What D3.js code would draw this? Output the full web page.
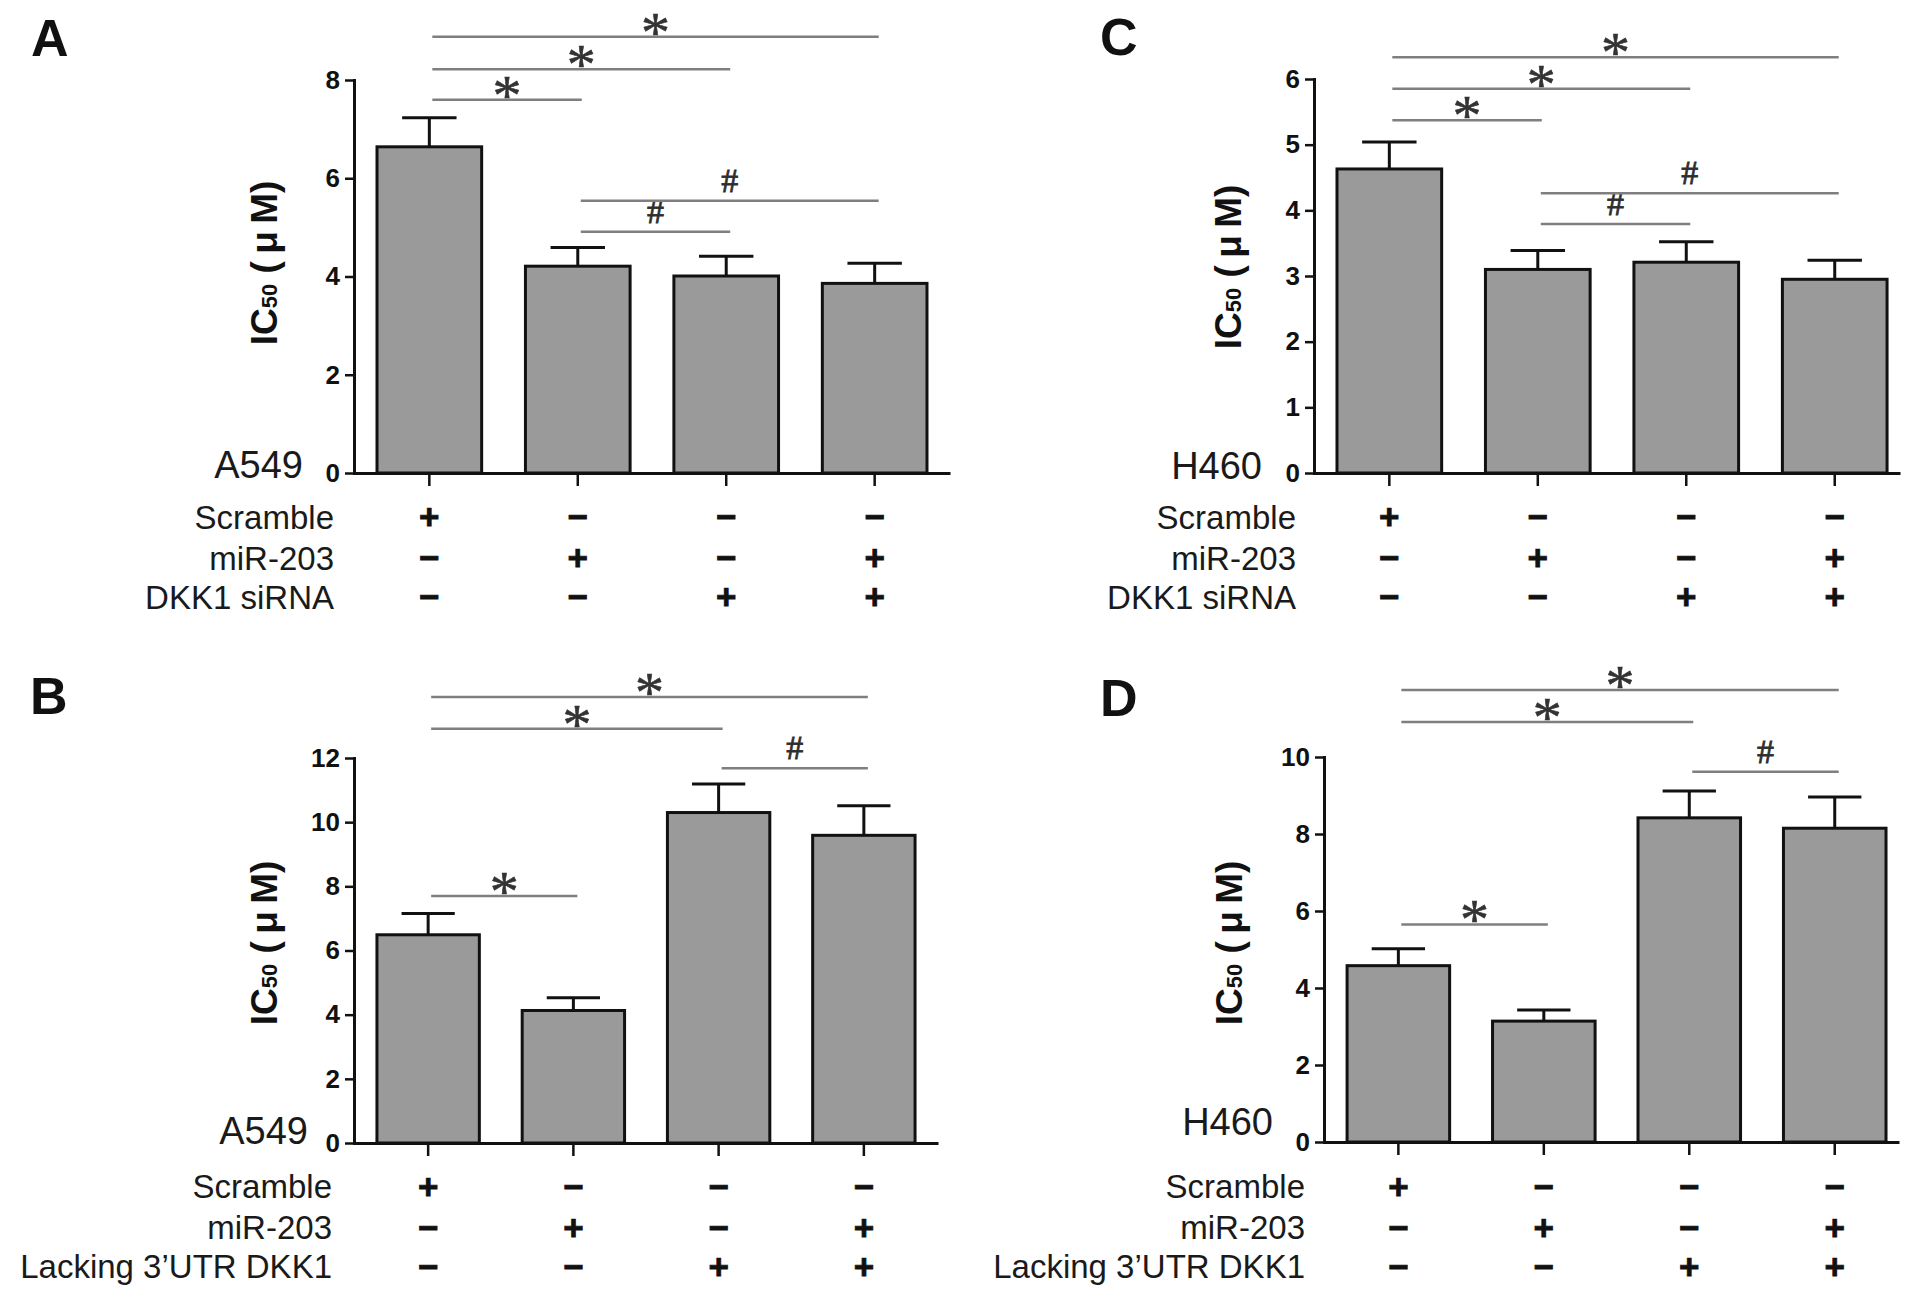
<!DOCTYPE html>
<html>
<head>
<meta charset="utf-8">
<script src="https://cdn.jsdelivr.net/npm/d3@7"></script>
<style>
  html, body { margin: 0; padding: 0; background: #fff; }
  svg { display: block; }
</style>
</head>
<body>
<svg id="chart" width="1913" height="1298"></svg>
<script>
// ---------------- DATA ----------------
const groups = ["G1", "G2", "G3", "G4"];

const rowLabelsAC = ["Scramble", "miR-203", "DKK1 siRNA"];
const rowLabelsBD = ["Scramble", "miR-203", "Lacking 3\u2019UTR DKK1"];
const signRows = [
  ["+", "\u2212", "\u2212", "\u2212"],
  ["\u2212", "+", "\u2212", "+"],
  ["\u2212", "\u2212", "+", "+"]
];

const meanA = [6.64, 4.21, 4.01, 3.86];
const errA  = [0.59, 0.38, 0.40, 0.41];
const meanB = [6.49, 4.13, 10.30, 9.59];
const errB  = [0.66, 0.40, 0.89, 0.92];
const meanC = [4.63, 3.10, 3.21, 2.95];
const errC  = [0.41, 0.29, 0.31, 0.29];
const meanD = [4.58, 3.14, 8.42, 8.15];
const errD  = [0.44, 0.29, 0.70, 0.81];

const ticksA = [0, 2, 4, 6, 8];
const ticksB = [0, 2, 4, 6, 8, 10, 12];
const ticksC = [0, 1, 2, 3, 4, 5, 6];
const ticksD = [0, 2, 4, 6, 8, 10];

// significance brackets: [from, to, level (y units), symbol]
const sigA = [[0, 1, 7.60, "*"], [0, 2, 8.22, "*"], [0, 3, 8.88, "*"], [1, 2, 4.91, "#"], [1, 3, 5.54, "#"]];
const sigB = [[0, 1, 7.70, "*"], [0, 2, 12.91, "*"], [0, 3, 13.90, "*"], [2, 3, 11.68, "#"]];
const sigC = [[0, 1, 5.37, "*"], [0, 2, 5.85, "*"], [0, 3, 6.33, "*"], [1, 2, 3.79, "#"], [1, 3, 4.26, "#"]];
const sigD = [[0, 1, 5.65, "*"], [0, 2, 10.91, "*"], [0, 3, 11.74, "*"], [2, 3, 9.62, "#"]];

const panelLetters = ["A", "B", "C", "D"];
const cellLines = ["A549", "A549", "H460", "H460"];
const yTitleMain = "IC";
const yTitleSub = "50";
const yTitleUnit = " (\u2009\u03bc\u2009M)";

// ---------------- LAYOUT ----------------
const panels = [
  { letter: panelLetters[0], cell: cellLines[0], mean: meanA, err: errA, ticks: ticksA, sig: sigA, rows: rowLabelsAC,
    x0: 354, x1: 950, po: 0.155, align: 0.5, y0: 473, yTop: 80,
    lx: 31, ly: 56, cx: 303, cy: 478, rowRight: 334, rowBase: [529, 570, 609], signMid: [517, 558, 597],
    tx: 277, ty: 263 },
  { letter: panelLetters[1], cell: cellLines[1], mean: meanB, err: errB, ticks: ticksB, sig: sigB, rows: rowLabelsBD,
    x0: 354, x1: 938, po: 0.158, align: 0.5, y0: 1143, yTop: 758,
    lx: 30, ly: 714, cx: 308, cy: 1144, rowRight: 332, rowBase: [1198, 1239, 1278], signMid: [1187, 1228, 1267],
    tx: 277, ty: 943 },
  { letter: panelLetters[2], cell: cellLines[2], mean: meanC, err: errC, ticks: ticksC, sig: sigC, rows: rowLabelsAC,
    x0: 1314, x1: 1900, po: 0.121, align: 0.64, y0: 473, yTop: 79,
    lx: 1100, ly: 55, cx: 1262, cy: 479, rowRight: 1296, rowBase: [529, 570, 609], signMid: [517, 558, 597],
    tx: 1241, ty: 267 },
  { letter: panelLetters[3], cell: cellLines[3], mean: meanD, err: errD, ticks: ticksD, sig: sigD, rows: rowLabelsBD,
    x0: 1324, x1: 1899, po: 0.124, align: 0.64, y0: 1142, yTop: 757,
    lx: 1100, ly: 716, cx: 1273, cy: 1135, rowRight: 1305, rowBase: [1198, 1239, 1278], signMid: [1187, 1228, 1267],
    tx: 1242, ty: 943 }
];

const SANS = "'Liberation Sans', Arial, Helvetica, sans-serif";
const SERIF = "'Liberation Serif', 'Times New Roman', serif";
const svg = d3.select("#chart");

panels.forEach(p => {
  const g = svg.append("g");
  const x = d3.scaleBand().domain(groups).range([p.x0, p.x1])
    .paddingInner(0.295).paddingOuter(p.po).align(p.align);
  const yMax = p.ticks[p.ticks.length - 1];
  const y = d3.scaleLinear().domain([0, yMax]).range([p.y0, p.yTop]);
  const bw = x.bandwidth();
  const cxOf = i => x(groups[i]) + bw / 2;

  // significance brackets
  const sg = g.append("g");
  p.sig.forEach(([a, b, lvl, sym]) => {
    const yy = y(lvl);
    const xa = cxOf(a) + 3, xb = cxOf(b) + 4;
    sg.append("line").attr("x1", xa).attr("x2", xb).attr("y1", yy).attr("y2", yy)
      .attr("stroke", "#7f7f7f").attr("stroke-width", 2.5);
    if (sym === "*") {
      sg.append("text").attr("x", (xa + xb) / 2).attr("y", yy + 15)
        .attr("text-anchor", "middle").attr("font-family", SERIF).attr("font-size", 58)
        .attr("fill", "#333").attr("stroke", "#333").attr("stroke-width", 0.6).text(sym);
    } else {
      sg.append("text").attr("x", (xa + xb) / 2).attr("y", yy - 9)
        .attr("text-anchor", "middle").attr("font-family", SERIF).attr("font-size", 34)
        .attr("fill", "#2e2e2e").attr("stroke", "#2e2e2e").attr("stroke-width", 0.8).text(sym);
    }
  });

  // error bars
  const eg = g.append("g").attr("stroke", "#111").attr("stroke-width", 3);
  p.mean.forEach((m, i) => {
    const cx = cxOf(i), top = y(m + p.err[i]);
    eg.append("line").attr("x1", cx).attr("x2", cx).attr("y1", y(m)).attr("y2", top);
    eg.append("line").attr("x1", cx - bw * 0.26).attr("x2", cx + bw * 0.26).attr("y1", top).attr("y2", top);
  });

  // bars
  g.append("g").selectAll("rect").data(p.mean).join("rect")
    .attr("x", (d, i) => x(groups[i]))
    .attr("width", bw)
    .attr("y", d => y(d))
    .attr("height", d => p.y0 - y(d))
    .attr("fill", "#9a9a9a").attr("stroke", "#111").attr("stroke-width", 3);

  // y axis
  const ya = g.append("g").attr("transform", `translate(${p.x0},0)`)
    .call(d3.axisLeft(y).tickValues(p.ticks).tickFormat(d3.format("d")).tickSize(9).tickSizeOuter(0).tickPadding(5));
  ya.select(".domain").attr("stroke", "#111").attr("stroke-width", 3).attr("stroke-linecap", "square");
  ya.selectAll(".tick line").attr("stroke", "#111").attr("stroke-width", 2.5);
  ya.selectAll(".tick text").attr("font-family", SANS).attr("font-weight", "bold")
    .attr("font-size", 26).attr("fill", "#111");

  // x axis
  const xa = g.append("g").attr("transform", `translate(0,${p.y0})`)
    .call(d3.axisBottom(x).tickSize(13).tickSizeOuter(0).tickFormat(""));
  xa.select(".domain").attr("stroke", "#111").attr("stroke-width", 3);
  xa.selectAll(".tick line").attr("stroke", "#111").attr("stroke-width", 2.5);

  // y title
  const t = g.append("text").attr("transform", `translate(${p.tx},${p.ty}) rotate(-90)`)
    .attr("text-anchor", "middle").attr("font-family", SANS).attr("font-weight", "bold")
    .attr("font-size", 37).attr("fill", "#111");
  t.append("tspan").text(yTitleMain);
  t.append("tspan").attr("font-size", 22).text(yTitleSub);
  t.append("tspan").text(yTitleUnit);

  // panel letter
  g.append("text").attr("x", p.lx).attr("y", p.ly).attr("font-family", SANS).attr("font-weight", "bold")
    .attr("font-size", 52).attr("fill", "#111").text(p.letter);

  // cell line label
  g.append("text").attr("x", p.cx).attr("y", p.cy).attr("text-anchor", "end")
    .attr("font-family", SANS).attr("font-size", 38).attr("fill", "#1a1a1a").text(p.cell);

  // row labels
  p.rows.forEach((lab, r) => {
    g.append("text").attr("x", p.rowRight).attr("y", p.rowBase[r]).attr("text-anchor", "end")
      .attr("font-family", SANS).attr("font-size", 33).attr("fill", "#1a1a1a").text(lab);
    signRows[r].forEach((s, i) => {
      g.append("text").attr("x", cxOf(i)).attr("y", p.signMid[r] + 12).attr("text-anchor", "middle")
        .attr("font-family", SANS).attr("font-weight", "bold").attr("font-size", 35)
        .attr("fill", "#111").attr("stroke", "#111").attr("stroke-width", 0.8).text(s);
    });
  });
});
</script>
</body>
</html>
